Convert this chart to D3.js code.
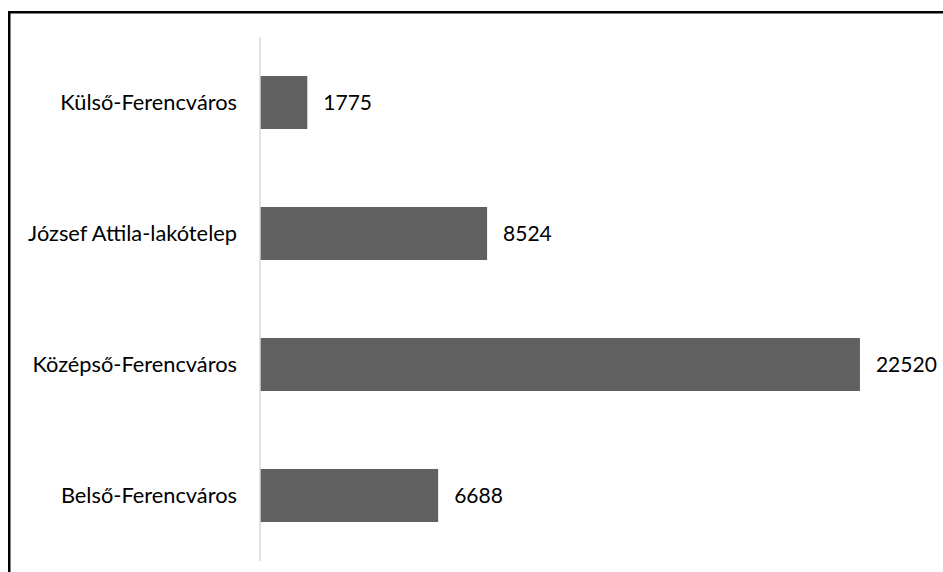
<!DOCTYPE html>
<html>
<head>
<meta charset="utf-8">
<script src="https://cdn.jsdelivr.net/npm/d3@7"></script>
<style>
  body { margin: 0; background: #fff; }
  svg { display: block; }
  svg text { font-family: Lato, sans-serif; }
</style>
</head>
<body>
<div id="chart"></div>
<script>
// district populations, top to bottom as drawn
const districts = ['Külső-Ferencváros', 'József Attila-lakótelep', 'Középső-Ferencváros', 'Belső-Ferencváros'];
const values = [1775, 8524, 22520, 6688];

const width = 943;
const height = 572;

const svg = d3.select('#chart').append('svg')
  .attr('width', width)
  .attr('height', height);

// frame, runs off the right and bottom edge
svg.append('rect')
  .attr('x', 9.25)
  .attr('y', 12.25)
  .attr('width', 1200)
  .attr('height', 1200)
  .attr('fill', 'none')
  .attr('stroke', '#000')
  .attr('stroke-width', 2.5);

const data = districts.map((d, i) => ({ name: d, value: values[i] }));

const x = d3.scaleLinear()
  .domain([0, 25000])
  .range([260, 926]);

const y = d3.scaleBand()
  .domain(districts)
  .range([37, 561])
  .paddingInner(0.595)
  .paddingOuter(0.2975);

svg.append('g').selectAll()
  .data(data)
  .join('rect')
    .attr('x', x(0))
    .attr('y', (d) => y(d.name))
    .attr('width', (d) => x(d.value) - x(0))
    .attr('height', y.bandwidth())
    .attr('fill', '#606060');

// category axis, just the light line and labels
svg.append('g')
  .attr('transform', `translate(${x(0)}, 0)`)
  .call(d3.axisLeft(y).tickSize(0).tickPadding(23))
  .call((g) => g.attr('font-family', null).attr('font-size', 21.8))
  .call((g) => g.select('.domain').attr('stroke', '#d9d9d9').attr('stroke-width', 1.5).attr('d', 'M0,37V561'))
  .call((g) => g.selectAll('text').attr('fill', '#000').attr('dy', '0.35em'));

svg.append('g').selectAll()
  .data(data)
  .join('text')
    .attr('x', (d) => x(d.value) + 16)
    .attr('y', (d) => y(d.name) + y.bandwidth() / 2)
    .attr('dy', '0.35em')
    .attr('font-size', 21)
    .attr('fill', '#000')
    .text((d) => d.value);
</script>
</body>
</html>
